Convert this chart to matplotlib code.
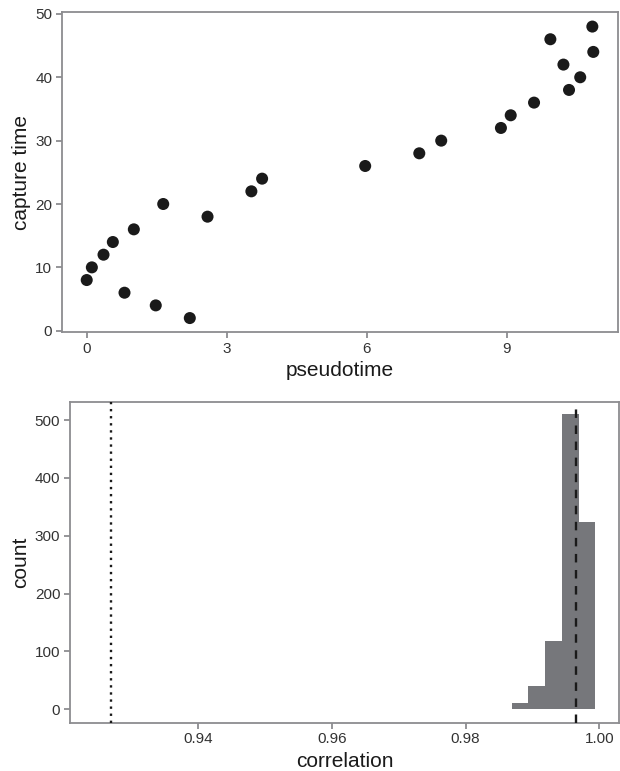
import numpy as np
import matplotlib
matplotlib.use('Agg')
import matplotlib.pyplot as plt

plt.rcParams['font.family'] = ['Liberation Sans', 'DejaVu Sans']

# top panel: pseudotime vs capture time
pseudotime = [0.00, 0.11, 0.36, 0.56, 1.01, 0.81, 1.48, 1.64, 2.21, 2.59, 3.53, 3.76,
              5.97, 7.13, 7.60, 8.88, 9.09, 9.59, 10.34, 10.58, 10.22, 10.86, 9.94, 10.84]
capture_time = [8, 10, 12, 14, 16, 6, 4, 20, 2, 18, 22, 24,
                26, 28, 30, 32, 34, 36, 38, 40, 42, 44, 46, 48]

# bottom panel: histogram of correlations
bin_edges = [0.9869, 0.9894, 0.9919, 0.9944, 0.9969, 0.9994]
counts = [11, 40, 118, 510, 323]
observed_corr = 0.92694
median_corr = 0.99656

frame_col = '#8c8c90'
text_col = '#333333'

fig = plt.figure(figsize=(6.2, 7.71), dpi=100)
ax1 = fig.add_axes([62/620, 1 - 332/771, (618-62)/620, (332-12)/771])
ax2 = fig.add_axes([70/620, 1 - 722.5/771, (619-70)/620, (722.5-401.5)/771])

ax1.scatter(pseudotime, capture_time, s=75, color='#1a1a1a', edgecolors='none', zorder=3)
ax1.set_xlim(-0.53, 11.39)
ax1.set_ylim(-0.2, 50.3)
ax1.set_xticks([0, 3, 6, 9])
ax1.set_yticks([0, 10, 20, 30, 40, 50])
ax1.set_xlabel('pseudotime', fontsize=15, color='#1a1a1a', labelpad=4)
ax1.set_ylabel('capture time', fontsize=15, color='#1a1a1a', labelpad=3)

widths = np.diff(bin_edges)
ax2.bar(bin_edges[:-1], counts, width=widths, align='edge', color='#76777b',
        edgecolor='none', zorder=2)
ax2.axvline(observed_corr, color='#1a1a1a', linestyle=(0, (1, 2)), linewidth=1.7, zorder=3)
ax2.axvline(median_corr, color='#1a1a1a', linestyle=(0, (3.6, 3.2)), linewidth=1.7, zorder=3)
ax2.set_xlim(0.9208, 1.00295)
ax2.set_ylim(-23, 532)
ax2.set_xticks([0.94, 0.96, 0.98, 1.00])
ax2.set_xticklabels(['0.94', '0.96', '0.98', '1.00'])
ax2.set_yticks([0, 100, 200, 300, 400, 500])
ax2.set_xlabel('correlation', fontsize=15, color='#1a1a1a', labelpad=4)
ax2.set_ylabel('count', fontsize=15, color='#1a1a1a', labelpad=3)

for ax in (ax1, ax2):
    for sp in ax.spines.values():
        sp.set_color(frame_col)
        sp.set_linewidth(1.3)
    ax.tick_params(colors=frame_col, labelcolor=text_col, labelsize=11,
                   length=4, width=1.3, pad=3)

fig.savefig('out.png', dpi=100)
